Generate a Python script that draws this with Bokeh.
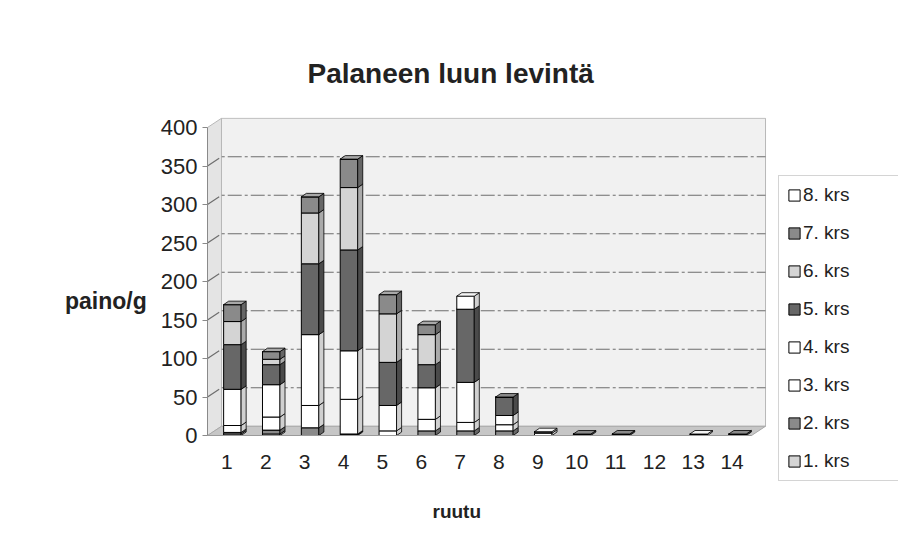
import numpy as np
from bokeh.plotting import figure
from bokeh.models import Legend, LegendItem, Title, FixedTicker, Range1d, ColumnDataSource
from bokeh.embed import file_html
from bokeh.resources import INLINE

# ---------------- data ----------------
categories = list(range(1, 15))
series_names = ["1. krs", "2. krs", "3. krs", "4. krs", "5. krs", "6. krs", "7. krs", "8. krs"]
krs1 = [2, 2, 0, 1, 0, 0, 0, 0, 0, 0, 0, 0, 0, 0]
krs2 = [2, 5, 10, 1, 0, 6, 6, 6, 0, 0, 0, 0, 0, 0]
krs3 = [9, 17, 29, 45, 6, 15, 11, 8, 3, 0, 0, 0, 0, 0]
krs4 = [47, 42, 92, 63, 33, 41, 52, 12, 2, 0, 0, 0, 2, 0]
krs5 = [58, 26, 92, 131, 56, 30, 95, 24, 0, 2, 2, 0, 0, 2]
krs6 = [30, 7, 66, 81, 63, 39, 0, 0, 0, 0, 0, 0, 0, 0]
krs7 = [22, 10, 21, 37, 25, 13, 0, 0, 0, 0, 0, 0, 0, 0]
krs8 = [0, 0, 0, 0, 0, 0, 17, 0, 0, 0, 0, 0, 0, 0]
series_values = [krs1, krs2, krs3, krs4, krs5, krs6, krs7, krs8]
y_ticks = [0, 50, 100, 150, 200, 250, 300, 350, 400]

title_text = "Palaneen luun levintä"
x_title = "ruutu"
y_title = "paino/g"

# ---------------- style ----------------
FONT = "Liberation Sans"
face = ["#d4d4d4", "#8a8a8a", "#ffffff", "#ffffff", "#676767", "#d4d4d4", "#8a8a8a", "#ffffff"]
side = ["#aaaaaa", "#666666", "#d0d0d0", "#d0d0d0", "#4a4a4a", "#aaaaaa", "#666666", "#d0d0d0"]
top = ["#e6e6e6", "#a8a8a8", "#f4f4f4", "#f4f4f4", "#8a8a8a", "#e6e6e6", "#a8a8a8", "#f4f4f4"]
BW = 0.45      # bar front width (x units)
BOFF = 0.14    # bar shift into depth
BDX = 0.13     # bar depth x
BDY = 4.5      # bar depth y
WDX = 0.36     # wall depth x
WDY = 12.0     # wall depth y
X0, X1 = 0.5, 14.5
YMAX = 400
PXX = 38.86    # px per x unit
PXY = 0.77     # px per y unit
FL, FT, FR, FB = 207, 117, 898, 483   # frame edges on the page
W, H = 898, 545

x_end = X0 + (FR - FL) / PXX
y_top = YMAX + WDY + 1
y_start = y_top - (FB - FT) / PXY

p = figure(width=W, height=H, output_backend="svg", toolbar_location=None,
           x_range=Range1d(X0, x_end), y_range=Range1d(y_start, y_top),
           min_border_left=FL, min_border_right=W - FR, min_border_top=FT, min_border_bottom=H - FB)
p.outline_line_color = None
p.background_fill_color = "white"
p.border_fill_color = "white"
p.xgrid.visible = False
p.ygrid.visible = False

# titles
p.title = Title(text=title_text, align="left", offset=100, standoff=58,
                text_font=FONT, text_font_style="bold", text_font_size="28px", text_color="#222222")
p.add_layout(Title(text=x_title, align="left", offset=225, standoff=30,
                   text_font=FONT, text_font_style="bold", text_font_size="19px",
                   text_color="#222222"), "below")

# walls & floor
p.patch([X0 + WDX, X1 + WDX, X1 + WDX, X0 + WDX], [WDY, WDY, YMAX + WDY, YMAX + WDY],
        fill_color="#f1f1f1", line_color="#b8b8b8", line_width=1)
p.patch([X0, X0 + WDX, X0 + WDX, X0], [0, WDY, YMAX + WDY, YMAX],
        fill_color="#e4e4e4", line_color="#b8b8b8", line_width=1)
p.patch([X0, X1, X1 + WDX, X0 + WDX], [0, 0, WDY, WDY],
        fill_color="#c6c6c6", line_color="#a8a8a8", line_width=1)

# gridlines on the walls
gx, gy = [], []
for v in y_ticks[1:-1]:
    gx.append([X0, X0 + WDX, X1 + WDX]); gy.append([v, v + WDY, v + WDY])
p.multi_line(gx, gy, line_color="#6e6e6e", line_width=1.2, line_dash="14 3 3 3")

# bars (3-D look)
x = np.array(categories, dtype=float) + BOFF
vals = np.array(series_values, dtype=float)
cum = np.vstack([np.zeros(len(x)), np.cumsum(vals, axis=0)])
renderers = []
for i, name in enumerate(series_names):
    b = cum[i]; t = cum[i + 1]
    src = ColumnDataSource(dict(x=x, bottom=b, top=t))
    r = p.vbar(x="x", bottom="bottom", top="top", width=BW, source=src,
               fill_color=face[i], line_color="black", line_width=1)
    renderers.append(r)
    sx, sy = [], []
    for k in range(len(x)):
        if t[k] - b[k] <= 0:
            continue
        xr = x[k] + BW / 2
        sx.append([xr, xr + BDX, xr + BDX, xr]); sy.append([b[k], b[k] + BDY, t[k] + BDY, t[k]])
    if sx:
        p.patches(sx, sy, fill_color=side[i], line_color="black", line_width=0.8)

tx, ty, tc = [], [], []
total = cum[-1]
for k in range(len(x)):
    if total[k] <= 0:
        continue
    top_series = max(i for i in range(len(series_names)) if vals[i][k] > 0)
    xl = x[k] - BW / 2; xr = x[k] + BW / 2
    tx.append([xl, xl + BDX, xr + BDX, xr]); ty.append([total[k], total[k] + BDY, total[k] + BDY, total[k]])
    tc.append(top[top_series])
p.patches(tx, ty, fill_color=tc, line_color="black", line_width=0.8)

# axes
p.yaxis.ticker = FixedTicker(ticks=y_ticks)
p.yaxis.bounds = (0, YMAX)
p.yaxis.axis_line_color = "#8a8a8a"
p.yaxis.major_tick_line_color = "#8a8a8a"
p.yaxis.major_tick_out = 5
p.yaxis.major_tick_in = 0
p.yaxis.minor_tick_line_color = None
p.yaxis.major_label_text_font = FONT
p.yaxis.major_label_text_font_size = "22px"
p.yaxis.major_label_text_color = "#222222"
p.yaxis.major_label_standoff = 5
p.yaxis.axis_label = y_title
p.yaxis.axis_label_orientation = "horizontal"
p.yaxis.axis_label_text_font = FONT
p.yaxis.axis_label_text_font_style = "bold"
p.yaxis.axis_label_text_font_size = "23px"
p.yaxis.axis_label_text_color = "#222222"
p.yaxis.axis_label_standoff = 11

p.xaxis.fixed_location = 0
p.xaxis.ticker = FixedTicker(ticks=categories)
p.xaxis.bounds = (X0, X1)
p.xaxis.axis_line_color = "#9a9a9a"
p.xaxis.major_tick_line_color = None
p.xaxis.minor_tick_line_color = None
p.xaxis.major_label_text_font = FONT
p.xaxis.major_label_text_font_size = "21px"
p.xaxis.major_label_text_color = "#222222"
p.xaxis.major_label_standoff = 13

# legend (top to bottom: 8. krs ... 1. krs)
items = [LegendItem(label=series_names[i], renderers=[renderers[i]]) for i in range(7, -1, -1)]
legend = Legend(items=items, location=(778 - FL, 2), orientation="vertical",
                label_text_font=FONT, label_text_font_size="19px", label_text_color="#222222",
                glyph_width=14, glyph_height=14, label_height=22, label_width=96, spacing=16,
                label_standoff=2, padding=8, margin=0,
                border_line_color="#aaaaaa", border_line_width=1, background_fill_color="white")
p.add_layout(legend, "center")

open("out.html", "w").write(file_html(p, INLINE))
